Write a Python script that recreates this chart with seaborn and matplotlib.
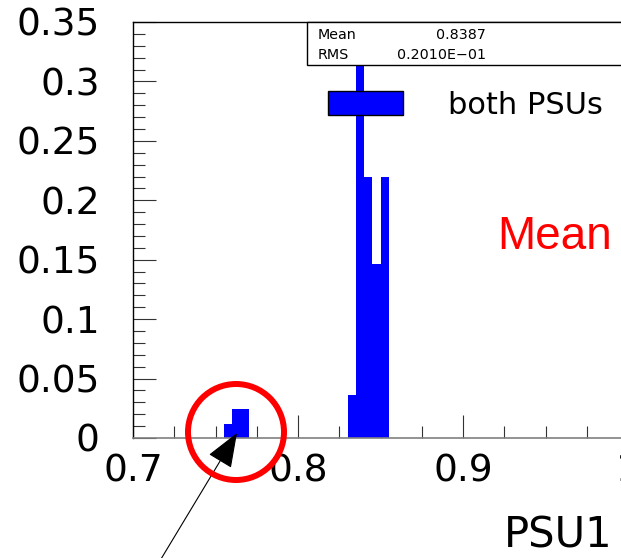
import numpy as np
import pandas as pd
import matplotlib
matplotlib.use("Agg")
import matplotlib.pyplot as plt
from matplotlib.patches import Rectangle, Circle, Patch
from matplotlib.ticker import FixedLocator, FixedFormatter, MultipleLocator
import seaborn as sns

# Histogram contents: lower bin edge and number of entries (bin width 0.005)
bin_lo = [0.755, 0.760, 0.765, 0.830, 0.835, 0.840, 0.845, 0.850]
entries = [1, 2, 2, 3, 26, 18, 12, 18]
bin_width = 0.005

x_ticks = [0.7, 0.8, 0.9, 1.0]
x_tick_labels = ["0.7", "0.8", "0.9", "1"]
y_ticks = [0, 0.05, 0.1, 0.15, 0.2, 0.25, 0.3, 0.35]
y_tick_labels = ["0", "0.05", "0.1", "0.15", "0.2", "0.25", "0.3", "0.35"]

stats_mean = "0.8387"
stats_rms = "0.2010E\u221201"
series_name = "both PSUs"
x_title = "PSU1"

sns.set_style("ticks")
plt.rcParams["font.family"] = ["DejaVu Sans"]
plt.rcParams["text.color"] = "black"
plt.rcParams["xtick.labelcolor"] = "black"
plt.rcParams["ytick.labelcolor"] = "black"

W, H = 621, 558
fig = plt.figure(figsize=(W / 100, H / 100), dpi=100)
fig.patch.set_facecolor("white")

x_min, x_max = 0.70, 1.05
px_per_unit = 1650
ax = fig.add_axes([133 / W, 120 / H, (x_max - x_min) * px_per_unit / W, 416 / H])
ax.set_facecolor("white")

hist_df = pd.DataFrame({"psu1": [b + bin_width / 2 for b in bin_lo],
                        "n": entries})
sns.histplot(data=hist_df, x="psu1", weights="n", binwidth=bin_width,
             binrange=(x_min, x_max), stat="probability",
             element="step", fill=True, color="#0000ff", alpha=1.0,
             linewidth=0, ax=ax)

ax.set_xlim(x_min, x_max)
ax.set_ylim(0, 0.35)
ax.set_xlabel("")
ax.set_ylabel("")

ax.xaxis.set_major_locator(FixedLocator(x_ticks))
ax.xaxis.set_major_formatter(FixedFormatter(x_tick_labels))
ax.xaxis.set_minor_locator(MultipleLocator(0.025))
ax.yaxis.set_major_locator(FixedLocator(y_ticks))
ax.yaxis.set_major_formatter(FixedFormatter(y_tick_labels))
ax.yaxis.set_minor_locator(MultipleLocator(0.01))

ax.tick_params(axis="both", which="major", direction="in", length=16.5,
               width=0.8, color="#333333", labelsize=27, labelcolor="black")
ax.tick_params(axis="both", which="minor", direction="in", length=8.3,
               width=0.8, color="#333333")
ax.tick_params(axis="x", which="major", pad=11)
ax.tick_params(axis="y", which="major", pad=24)

for side in ["left", "top"]:
    ax.spines[side].set_color("black")
    ax.spines[side].set_linewidth(1.0)
ax.spines["bottom"].set_color("#808080")
ax.spines["bottom"].set_linewidth(1.2)
ax.spines["right"].set_visible(False)

# legend entry
handle = Patch(facecolor="#0000ff", edgecolor="black", linewidth=1.0)
fs_leg = 22
fs_px = fs_leg * 100 / 72
leg = ax.legend([handle], [series_name], loc="center left",
                bbox_to_anchor=(328 / W, (H - 105) / H),
                bbox_transform=fig.transFigure,
                frameon=False, fontsize=fs_leg, borderpad=0, borderaxespad=0,
                handlelength=75 / fs_px, handleheight=25 / fs_px,
                handletextpad=(448 - 403) / fs_px)
for t in leg.get_texts():
    t.set_color("black")

# statistics box
inch = fig.dpi_scale_trans
stats_box = Rectangle((307 / 100, (H - 65) / 100), 3.6, 0.43, transform=inch,
                      facecolor="white", edgecolor="black", linewidth=1.0,
                      zorder=10, clip_on=False)
fig.add_artist(stats_box)
stat_kw = dict(fontsize=10.3, va="baseline", color="black", zorder=11)
fig.text(318 / W, (H - 39) / H, "Mean", **stat_kw)
fig.text(486 / W, (H - 39) / H, stats_mean, ha="right", **stat_kw)
fig.text(318 / W, (H - 59) / H, "RMS", **stat_kw)
fig.text(486 / W, (H - 59) / H, stats_rms, ha="right", **stat_kw)

# axis title
fig.text(613 / W, (H - 548) / H, x_title, fontsize=30, ha="right",
         va="baseline", color="black")

# annotation: red "Mean", circle and arrow
fig.text(497 / W, (H - 249) / H, "Mean", color="red", fontsize=33,
         family=["Liberation Sans", "DejaVu Sans"], va="baseline")
ring = Circle((2.36, (H - 432) / 100), 0.48, transform=inch, fill=False,
              edgecolor="red", linewidth=4.3, zorder=12)
fig.add_artist(ring)
ax.annotate("", xy=(237, H - 433), xycoords="figure pixels",
            xytext=(158, -6), textcoords="figure pixels",
            arrowprops=dict(arrowstyle="-|>,head_length=22,head_width=8.5",
                            mutation_scale=1, color="black", lw=0.8,
                            shrinkA=0, shrinkB=0),
            annotation_clip=False, zorder=13)

fig.savefig("out.png", dpi=100)
